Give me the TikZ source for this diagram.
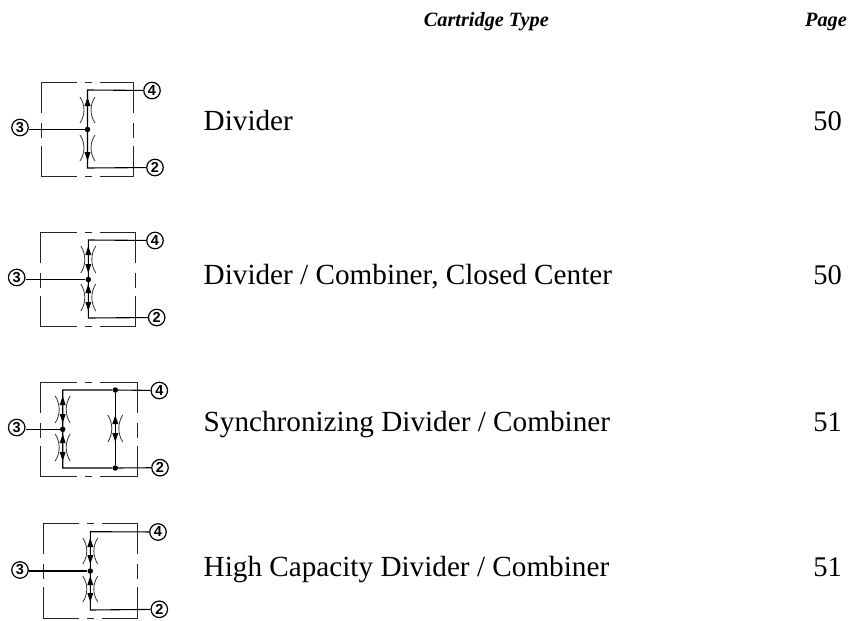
\documentclass[tikz,border=0pt]{standalone}
\usepackage{fontspec}
\setmainfont{Liberation Serif}
\newfontfamily\numfont{Liberation Sans}
\tikzset{
  x=1pt,y=-1pt,
  wire/.style={line width=1.1pt,black},
  boxline/.style={line width=1pt,black!85},
  arcline/.style={line width=0.8pt,black!80},
  port/.style={circle,draw=black,fill=white,line width=1.2pt,minimum size=16.5pt,inner sep=0pt,font=\numfont\bfseries\fontsize{14.5}{14.5}\selectfont},
  junction/.style={circle,fill=black,minimum size=5.5pt,inner sep=0pt},
  headtext/.style={inner sep=0pt,font=\bfseries\itshape\fontsize{20.3}{22}\selectfont},
  itemtext/.style={inner sep=0pt,anchor=base west,font=\fontsize{29.2}{31}\selectfont},
  pagetext/.style={inner sep=0pt,anchor=base east,font=\fontsize{28.5}{31}\selectfont}
}
% dashed enclosure: left right top bottom dash-centre
\newcommand{\encl}[5]{%
  \draw[boxline] (#5-11.5,#3) -- (#1,#3) -- (#1,#3+31);
  \draw[boxline] (#1,#3+41) -- (#1,#3+56);
  \draw[boxline] (#1,#3+64) -- (#1,#4) -- (#5-11.5,#4);
  \draw[boxline] (#5-3.5,#3) -- (#5+3.5,#3);
  \draw[boxline] (#5-3.5,#4) -- (#5+3.5,#4);
  \draw[boxline] (#5+11.5,#3) -- (#2,#3) -- (#2,#3+31);
  \draw[boxline] (#2,#3+41) -- (#2,#3+56);
  \draw[boxline] (#2,#3+64) -- (#2,#4) -- (#5+11.5,#4);
}
% orifice: x, top y, bottom y
\newcommand{\orifice}[3]{%
  \draw[arcline] (#1-7.5,#2) .. controls (#1-2.2,#2+8) and (#1-2.2,#3-8) .. (#1-7.5,#3);
  \draw[arcline] (#1+7.5,#2) .. controls (#1+2.2,#2+8) and (#1+2.2,#3-8) .. (#1+7.5,#3);
}
\newcommand{\tipup}[2]{\fill (#1,#2) -- (#1+3,#2+9) -- (#1-3,#2+9) -- cycle;}
\newcommand{\tipdown}[2]{\fill (#1,#2) -- (#1+3,#2-9) -- (#1-3,#2-9) -- cycle;}
\newcommand{\dbl}[3]{\tipup{#1}{#2}\tipdown{#1}{#3}}
\begin{document}
\begin{tikzpicture}
\useasboundingbox (0,0) rectangle (852,621);
\fill[white] (0,0) rectangle (852,621);

\node[headtext,anchor=base east] (hcart) at (549,26.5) {Cartridge Type};
\node[headtext,anchor=base east] (hpage) at (847,26.5) {Page};

% --- panel 1
\encl{41.5}{133.5}{82}{176}{88.5}
\node[port] (a3) at (20,127.5) {3};
\node[port] (a4) at (152,90.5) {4};
\node[port] (a2) at (155,167.5) {2};
\node[junction] (aj) at (87.5,129.5) {};
\coordinate (at) at (87.5,90);
\coordinate (ab) at (87.5,168);
\draw[wire] (a4) -- (at) -- (ab) -- (a2);
\draw[wire] (a3.east |- aj) -- (aj);
\orifice{87.5}{97}{123}
\orifice{87.5}{135}{161}
\tipup{87.5}{97}
\tipdown{87.5}{161}

% --- panel 2
\encl{40.7}{135}{232}{326}{88.5}
\node[port] (b3) at (16.7,277.5) {3};
\node[port] (b4) at (155,240.5) {4};
\node[port] (b2) at (156.7,317.5) {2};
\node[junction] (bj) at (88.3,279.5) {};
\coordinate (bt) at (88.3,240);
\coordinate (bb) at (88.3,318);
\draw[wire] (b4) -- (bt) -- (bb) -- (b2);
\draw[wire] (b3.east |- bj) -- (bj);
\orifice{88.3}{246}{273}
\orifice{88.3}{284}{311}
\dbl{88.3}{246}{273}
\dbl{88.3}{284}{311}

% --- panel 3
\encl{40.7}{137}{382}{476}{88.5}
\node[port] (c3) at (16.7,427.5) {3};
\node[port] (c4) at (159.3,390.5) {4};
\node[port] (c2) at (160,467.7) {2};
\node[junction] (cj) at (62.7,429.3) {};
\node[junction] (cu) at (115.3,390) {};
\node[junction] (cd) at (115.3,468) {};
\coordinate (ct) at (62.7,390);
\coordinate (cb) at (62.7,468);
\draw[wire] (c4) -- (cu) -- (ct) -- (cb) -- (cd) -- (c2);
\draw[wire] (cu) -- (cd);
\draw[wire] (c3.east |- cj) -- (cj);
\orifice{62.7}{396}{423}
\orifice{62.7}{434}{461}
\dbl{62.7}{396}{423}
\dbl{62.7}{434}{461}
\orifice{115.3}{415}{442}
\dbl{115.3}{415}{442}

% --- panel 4
\encl{43.7}{137.3}{523.3}{618}{90.7}
\node[port] (d3) at (20,570) {3};
\node[port] (d4) at (158,532) {4};
\node[port] (d2) at (159.3,609.3) {2};
\node[junction] (dj) at (90.3,571) {};
\coordinate (dt) at (90.3,531.7);
\coordinate (db) at (90.3,610);
\draw[wire] (d4) -- (dt) -- (db) -- (d2);
\draw[wire] (d3.east |- dj) -- (dj);
\orifice{90.3}{538}{564}
\orifice{90.3}{576}{602}
\dbl{90.3}{538}{564}
\dbl{90.3}{576}{602}

% --- labels
\node[itemtext] (t1) at (203.5,130.7) {Divider};
\node[itemtext] (t2) at (203.5,284.3) {Divider / Combiner, Closed Center};
\node[itemtext] (t3) at (203.5,431.7) {Synchronizing Divider / Combiner};
\node[itemtext] (t4) at (203.5,576) {High Capacity Divider / Combiner};
\node[pagetext] (p1) at (842,130.7) {50};
\node[pagetext] (p2) at (842,284.3) {50};
\node[pagetext] (p3) at (842,431.7) {51};
\node[pagetext] (p4) at (842,576) {51};
\end{tikzpicture}
\end{document}
